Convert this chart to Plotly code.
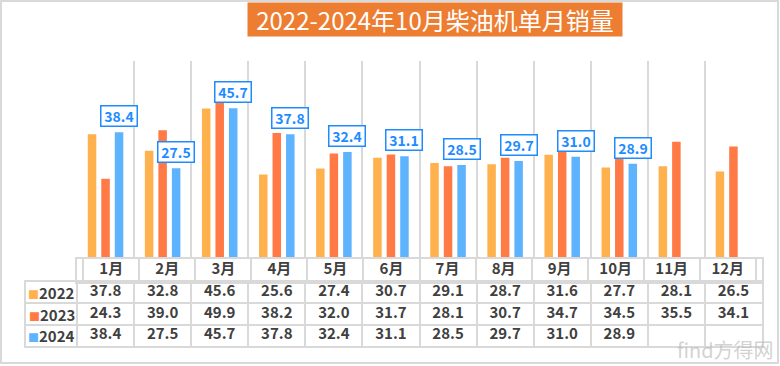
import plotly.graph_objects as go

months = ["1月", "2月", "3月", "4月", "5月", "6月", "7月", "8月", "9月", "10月", "11月", "12月"]
years = ["2022", "2023", "2024"]
v2022 = [37.8, 32.8, 45.6, 25.6, 27.4, 30.7, 29.1, 28.7, 31.6, 27.7, 28.1, 26.5]
v2023 = [24.3, 39.0, 49.9, 38.2, 32.0, 31.7, 28.1, 30.7, 34.7, 34.5, 35.5, 34.1]
v2024 = [38.4, 27.5, 45.7, 37.8, 32.4, 31.1, 28.5, 29.7, 31.0, 28.9]
title_text = "2022-2024年10月柴油机单月销量"
watermark = "find方得网"

colors = ["#FFB14E", "#FF7A45", "#5EB3FF"]
series = [v2022, v2023, v2024]
FONT = "Noto Sans CJK SC"
TXT = "#404040"
GRID = "#D9D9D9"
LBL = "#1E8CFF"

W, H = 780, 366
mt, mb, ml, mr = 61, 20, 26, 18
ph = H - mt - mb
pw = W - ml - mr
plot_left_px = 77
bar_bottom_px = 259
header_bottom_px = 282
col_w = (W - mr - plot_left_px) / 12
label_units = (plot_left_px - ml) / col_w


def py(px):
    return (H - mb - px) / ph


def pxx(px):
    return (px - ml) / pw


fig = go.Figure()

# bars
for name, vals, c in zip(years, series, colors):
    fig.add_trace(go.Bar(x=months[:len(vals)], y=vals, name=name, marker_color=c,
                         marker_line_width=0, showlegend=False,
                         xaxis="x", yaxis="y"))

# 2024 value labels
for m, v in zip(months, v2024):
    fig.add_annotation(x=m, y=v, xref="x", yref="y", text=f"<b>{v:.1f}</b>",
                       showarrow=False, yanchor="bottom", xshift=13.5, yshift=5,
                       font=dict(family=FONT, size=14, color=LBL),
                       bgcolor="white", bordercolor=LBL, borderwidth=1.5,
                       borderpad=1, width=33, height=17)

# header row (months)
fig.add_trace(go.Scatter(x=months, y=[0] * len(months), mode="text",
                         text=[f"<b>{m}</b>" for m in months],
                         textfont=dict(family=FONT, size=15, color=TXT),
                         showlegend=False, hoverinfo="skip", xaxis="x3", yaxis="y3"))

# body rows
for i, (name, vals, c) in enumerate(zip(years, series, colors)):
    fig.add_trace(go.Scatter(x=list(range(len(vals))), y=[i] * len(vals), mode="text",
                             text=[f"<b>{v:.1f}</b>" for v in vals],
                             textfont=dict(family=FONT, size=15, color=TXT),
                             showlegend=False, hoverinfo="skip", xaxis="x2", yaxis="y2"))
    fig.add_annotation(x=-0.5 - label_units / 2, y=i, xref="x2", yref="y2",
                       text=f"<span style='color:{c};font-size:11px'>■</span><b>{name}</b>",
                       showarrow=False, xanchor="center", yanchor="middle",
                       font=dict(family=FONT, size=15, color=TXT))

# title
fig.add_annotation(x=pxx(435), y=py(19.5), xref="paper", yref="paper",
                   text=title_text, showarrow=False, bgcolor="#ED7D31",
                   font=dict(family=FONT, size=24, color="white"),
                   width=372, height=31, xanchor="center", yanchor="middle")

# watermark
fig.add_annotation(x=pxx(776), y=py(349), xref="paper", yref="paper",
                   text=watermark, showarrow=False, xanchor="right", yanchor="middle",
                   font=dict(family=FONT, size=20, color="rgba(180,180,180,0.6)"))

# outer frame
fig.add_shape(type="rect", xref="paper", yref="paper",
              x0=pxx(1), x1=pxx(778), y0=py(363), y1=py(1),
              line=dict(color=GRID, width=2), fillcolor="rgba(0,0,0,0)", layer="below")

axis_off = dict(showticklabels=False, ticks="", zeroline=False, fixedrange=True)
fig.update_layout(
    width=W, height=H,
    margin=dict(l=ml, r=mr, t=mt, b=mb),
    paper_bgcolor="white", plot_bgcolor="white",
    barmode="group", bargap=0.29, bargroupgap=0.37,
    font=dict(family=FONT, color=TXT),
    xaxis=dict(domain=[pxx(plot_left_px), 1], type="category", categoryarray=months,
               tickson="boundaries", showgrid=True, gridcolor=GRID, gridwidth=2,
               showline=False, **axis_off),
    yaxis=dict(domain=[py(bar_bottom_px), 1], range=[0, 60], showgrid=False,
               showline=False, **axis_off),
    xaxis3=dict(domain=[pxx(plot_left_px), 1], type="category", categoryarray=months,
                tickson="boundaries", showgrid=True, gridcolor=GRID, gridwidth=2,
                showline=True, mirror=True, linecolor=GRID, linewidth=2,
                anchor="y3", **axis_off),
    yaxis3=dict(domain=[py(header_bottom_px), py(bar_bottom_px)], range=[-0.5, 0.5],
                showgrid=False, showline=True, mirror=True, linecolor=GRID, linewidth=2,
                anchor="x3", **axis_off),
    xaxis2=dict(domain=[0, 1], range=[-0.5 - label_units, len(months) - 0.5],
                tickvals=[k - 0.5 for k in range(len(months) + 1)],
                showgrid=True, gridcolor=GRID, gridwidth=2,
                showline=True, mirror=True, linecolor=GRID, linewidth=2,
                anchor="y2", **axis_off),
    yaxis2=dict(domain=[0, py(header_bottom_px)], range=[len(years) - 0.5, -0.5],
                tickvals=[k + 0.5 for k in range(len(years) - 1)],
                showgrid=True, gridcolor=GRID, gridwidth=2,
                showline=True, mirror=True, linecolor=GRID, linewidth=2,
                anchor="x2", **axis_off),
)

fig.write_html("out.html", config={"displayModeBar": False},
               post_script="document.body.style.margin='0';")
